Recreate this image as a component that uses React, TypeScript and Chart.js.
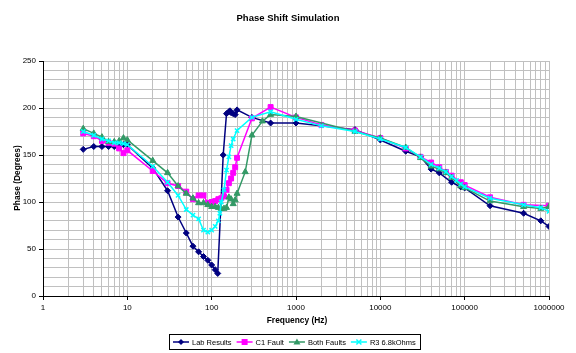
import React, { useEffect, useRef } from 'react';
import { Chart, registerables } from 'chart.js';

Chart.register(...registerables);

const FONT = '"Liberation Sans", Arial, sans-serif';

const chartTitle = 'Phase Shift Simulation';
const xAxisTitle = 'Frequency (Hz)';
const yAxisTitle = 'Phase (Degrees)';

const seriesNames = ['Lab Results', 'C1 Fault', 'Both Faults', 'R3 6.8kOhms'];
const seriesColors = ['#000080', '#FF00FF', '#339966', '#00FFFF'];
const seriesMarkers = ['rectRot', 'rect', 'triangle', 'crossRot'];

const labFreq = [3, 4, 5, 6, 7, 8, 9, 10, 20, 30, 40, 50, 60, 70, 80, 90, 100, 110, 118, 137, 150, 160, 165, 170, 180, 190, 200, 300, 500, 1000, 5000, 10000, 20000, 30000, 40000, 50000, 70000, 90000, 100000, 200000, 500000, 800000, 1000000];
const labPhase = [156, 159, 159, 159, 159, 160, 161, 161, 136, 112, 84, 67, 53, 47, 42, 38, 33, 28, 24, 150, 194, 196, 197, 195, 194, 193, 198, 190, 184, 184, 177, 166, 154, 148, 135, 131, 121, 116, 115, 96, 88, 80, 74];

const c1Freq = [3, 4, 5, 6, 7, 8, 9, 10, 20, 30, 40, 50, 60, 70, 80, 90, 100, 110, 120, 130, 140, 150, 160, 170, 180, 190, 200, 300, 500, 1000, 2000, 5000, 10000, 20000, 30000, 40000, 50000, 60000, 70000, 90000, 100000, 200000, 500000, 1000000];
const c1Phase = [173, 170, 165, 163, 162, 157, 152, 155, 133, 120, 117, 111, 103, 107, 107, 99, 100, 101, 103, 104, 106, 113, 120, 125, 131, 137, 147, 189, 201, 190, 182, 176, 168, 157, 148, 142, 137, 132, 128, 121, 118, 105, 97, 96];

const bfFreq = [3, 4, 5, 6, 7, 8, 9, 10, 20, 30, 40, 50, 60, 70, 80, 90, 100, 110, 120, 130, 140, 150, 160, 170, 180, 190, 200, 250, 300, 400, 500, 1000, 5000, 10000, 20000, 30000, 40000, 50000, 60000, 70000, 90000, 100000, 200000, 500000, 800000, 1000000];
const bfPhase = [178, 173, 169, 164, 164, 165, 168, 166, 144, 131, 117, 109, 104, 99, 99, 97, 95, 95, 94, 93, 93, 94, 105, 103, 98, 102, 109, 132, 171, 186, 193, 191, 175, 168, 158, 147, 138, 135, 131, 126, 117, 115, 101, 95, 93, 95];

const r3Freq = [3, 4, 5, 6, 7, 8, 9, 10, 20, 30, 40, 50, 60, 70, 80, 90, 100, 110, 120, 125, 130, 140, 150, 160, 170, 180, 200, 300, 500, 1000, 2000, 5000, 10000, 20000, 30000, 40000, 50000, 60000, 70000, 80000, 90000, 100000, 200000, 500000, 800000, 1000000];
const r3Phase = [175, 171, 167, 165, 163, 163, 162, 161, 138, 121, 107, 92, 86, 82, 70, 68, 70, 74, 80, 88, 100, 113, 134, 148, 160, 167, 176, 190, 196, 188, 181, 175, 167, 158, 148, 140, 136, 132, 127, 123, 119, 116, 104, 97, 94, 90];

const xTickValues: number[] = [];
for (let e = 0; e <= 6; e++) {
  for (let m = 1; m <= 9; m++) {
    const v = m * Math.pow(10, e);
    if (v <= 1000000) xTickValues.push(v);
  }
}

const isDecade = (v: number) => {
  const l = Math.log10(v);
  return Math.abs(l - Math.round(l)) < 1e-9;
};

function drawMarker(ctx: CanvasRenderingContext2D, style: string, x: number, y: number, color: string) {
  ctx.save();
  ctx.fillStyle = color;
  ctx.strokeStyle = color;
  ctx.lineWidth = 1.5;
  ctx.beginPath();
  if (style === 'rectRot') {
    const r = 3;
    ctx.moveTo(x, y - r);
    ctx.lineTo(x + r, y);
    ctx.lineTo(x, y + r);
    ctx.lineTo(x - r, y);
    ctx.closePath();
    ctx.fill();
  } else if (style === 'rect') {
    ctx.rect(x - 3, y - 3, 6, 6);
    ctx.fill();
  } else if (style === 'triangle') {
    ctx.moveTo(x, y - 3.5);
    ctx.lineTo(x + 3.5, y + 2.5);
    ctx.lineTo(x - 3.5, y + 2.5);
    ctx.closePath();
    ctx.fill();
  } else {
    const r = 2.5;
    ctx.moveTo(x - r, y - r);
    ctx.lineTo(x + r, y + r);
    ctx.moveTo(x + r, y - r);
    ctx.lineTo(x - r, y + r);
    ctx.stroke();
  }
  ctx.restore();
}

const textPlugin = {
  id: 'textPlugin',
  afterDraw(chart: any) {
    const ctx: CanvasRenderingContext2D = chart.ctx;
    ctx.save();
    ctx.fillStyle = '#000';
    ctx.textAlign = 'center';
    ctx.textBaseline = 'middle';
    ctx.font = `bold 9.5px ${FONT}`;
    ctx.fillText(chartTitle, 288, 18);
    ctx.font = `bold 8.4px ${FONT}`;
    ctx.fillText(xAxisTitle, 297, 321);
    ctx.save();
    ctx.translate(18, 178);
    ctx.rotate(-Math.PI / 2);
    ctx.fillText(yAxisTitle, 0, 0);
    ctx.restore();

    // legend
    ctx.font = `7.5px ${FONT}`;
    const sample = 16;
    const gapS = 3;
    const gapI = 5;
    const pad = 4;
    const widths = seriesNames.map((n) => ctx.measureText(n).width);
    let total = pad * 2 + gapI * (seriesNames.length - 1);
    widths.forEach((w) => (total += sample + gapS + w));
    const left = Math.round(294 - total / 2);
    const top = 334;
    const h = 15;
    ctx.strokeStyle = '#000';
    ctx.lineWidth = 1;
    ctx.strokeRect(left + 0.5, top + 0.5, Math.round(total), h);
    const cy = top + h / 2 + 0.5;
    let x = left + pad;
    ctx.textAlign = 'left';
    seriesNames.forEach((name, i) => {
      ctx.strokeStyle = seriesColors[i];
      ctx.lineWidth = 1.5;
      ctx.beginPath();
      ctx.moveTo(x, cy);
      ctx.lineTo(x + sample, cy);
      ctx.stroke();
      drawMarker(ctx, seriesMarkers[i], x + sample / 2, cy, seriesColors[i]);
      ctx.fillStyle = '#000';
      ctx.fillText(name, x + sample + gapS, cy + 0.5);
      x += sample + gapS + widths[i] + gapI;
    });
    ctx.restore();
  },
};

export default function App() {
  const canvasRef = useRef<HTMLCanvasElement | null>(null);

  useEffect(() => {
    if (!canvasRef.current) return;
    const allFreq = [labFreq, c1Freq, bfFreq, r3Freq];
    const allPhase = [labPhase, c1Phase, bfPhase, r3Phase];
    const radii = [3, 3.5, 3.5, 3];
    const datasets = seriesNames.map((name, i) => ({
      label: name,
      data: allFreq[i].map((f, j) => ({ x: f, y: allPhase[i][j] })),
      borderColor: seriesColors[i],
      backgroundColor: seriesColors[i],
      pointBackgroundColor: seriesColors[i],
      pointBorderColor: seriesColors[i],
      pointStyle: seriesMarkers[i],
      pointRadius: radii[i],
      pointBorderWidth: i === 3 ? 1.5 : 1,
      borderWidth: 1.5,
      showLine: true,
      tension: 0,
      order: 4 - i,
    }));

    const chart = new Chart(canvasRef.current, {
      type: 'scatter',
      data: { datasets },
      plugins: [textPlugin],
      options: {
        animation: false,
        responsive: true,
        maintainAspectRatio: false,
        events: [],
        layout: { padding: { left: 0, right: 27, top: 61, bottom: 0 } },
        plugins: {
          legend: { display: false },
          title: { display: false },
          tooltip: { enabled: false },
        },
        scales: {
          x: {
            type: 'logarithmic',
            min: 1,
            max: 1000000,
            afterBuildTicks: (scale: any) => {
              scale.ticks = xTickValues.map((v) => ({ value: v, major: false }));
            },
            afterFit: (scale: any) => {
              scale.height = 57;
            },
            grid: {
              color: '#c0c0c0',
              lineWidth: 1,
              tickLength: 4,
              tickColor: (c: any) => (c.tick && isDecade(c.tick.value) ? '#000' : 'rgba(0,0,0,0)'),
            },
            border: { color: '#000', width: 1 },
            ticks: {
              autoSkip: false,
              maxRotation: 0,
              minRotation: 0,
              padding: 3,
              color: '#000',
              font: { family: FONT, size: 8 },
              callback: (v: any) => (isDecade(Number(v)) ? String(Math.round(Number(v))) : ''),
            },
          },
          y: {
            min: 0,
            max: 250,
            afterFit: (scale: any) => {
              scale.width = 43;
            },
            grid: {
              color: '#c0c0c0',
              lineWidth: 1,
              tickLength: 4,
              tickColor: (c: any) => (c.tick && c.tick.value % 50 === 0 ? '#000' : 'rgba(0,0,0,0)'),
            },
            border: { color: '#000', width: 1 },
            ticks: {
              stepSize: 10,
              autoSkip: false,
              padding: 3,
              color: '#000',
              font: { family: FONT, size: 8 },
              callback: (v: any) => (Number(v) % 50 === 0 ? String(v) : ''),
            },
          },
        },
      } as any,
    });
    return () => chart.destroy();
  }, []);

  return (
    <div style={{ position: 'absolute', left: 0, top: 0, width: 576, height: 353, background: '#fff' }}>
      <canvas ref={canvasRef} />
    </div>
  );
}
